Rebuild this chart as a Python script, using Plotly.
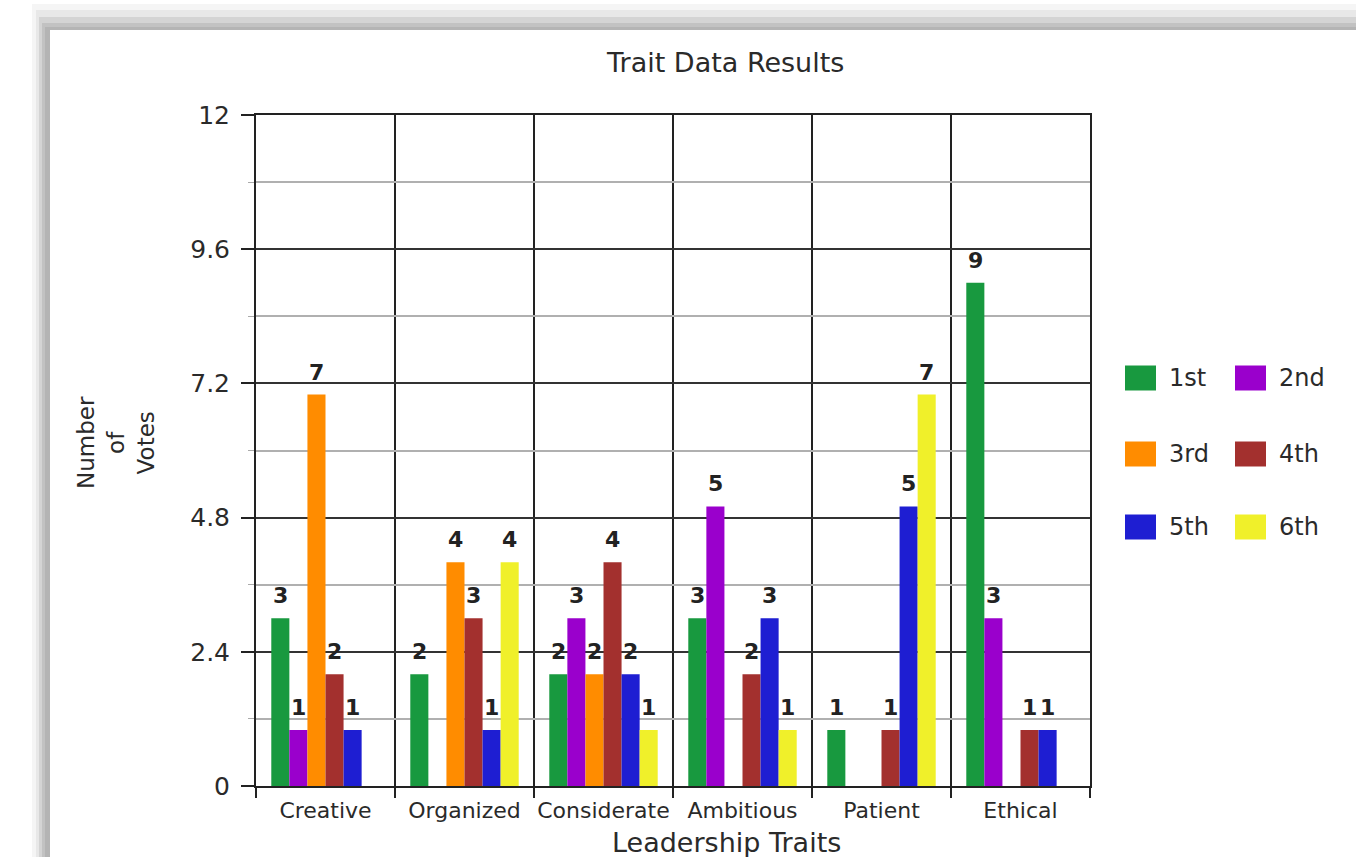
import plotly.graph_objects as go

# ---- data -------------------------------------------------------------
categories = ["Creative", "Organized", "Considerate", "Ambitious", "Patient", "Ethical"]
rank_names = ["1st", "2nd", "3rd", "4th", "5th", "6th"]
rank_colors = ["#18993f", "#9a00cc", "#ff8c00", "#a3302e", "#1e1ed2", "#f0f02a"]

votes_1st = [3, 2, 2, 3, 1, 9]
votes_2nd = [1, 0, 3, 5, 0, 3]
votes_3rd = [7, 4, 2, 0, 0, 0]
votes_4th = [2, 3, 4, 2, 1, 1]
votes_5th = [1, 1, 2, 3, 5, 1]
votes_6th = [0, 4, 1, 1, 7, 0]
series = [votes_1st, votes_2nd, votes_3rd, votes_4th, votes_5th, votes_6th]

y_tick_vals = [0, 2.4, 4.8, 7.2, 9.6, 12]
y_tick_text = ["0", "2.4", "4.8", "7.2", "9.6", "12"]
y_minor_vals = [1.2, 3.6, 6.0, 8.4, 10.8]

# ---- page geometry ----------------------------------------------------
W, H = 1356, 857
ML, MR, MT, MB = 256, 266, 115, 71
PW, PH = W - ML - MR, H - MT - MB
FONT = "DejaVu Sans"
INK = "#222222"
TEXT = "#2a2a2a"
BAR_W = 0.13


def px_x(X):
    return (X - ML) / PW


def px_y(Y):
    return (H - MB - Y) / PH


fig = go.Figure()

for j, (name, color, vals) in enumerate(zip(rank_names, rank_colors, series)):
    fig.add_trace(go.Bar(
        x=list(range(len(categories))),
        y=vals,
        name=name,
        width=BAR_W,
        offset=(j - 3) * BAR_W,
        marker=dict(color=color, line=dict(width=0)),
        showlegend=False,
        hoverinfo="skip",
    ))

annotations = []
# value labels above each non-zero bar
for j, vals in enumerate(series):
    for i, v in enumerate(vals):
        if v == 0:
            continue
        annotations.append(dict(
            x=i + (j - 2.5) * BAR_W, y=v, xref="x", yref="y",
            text=f"<b>{v}</b>", showarrow=False,
            yanchor="bottom", xanchor="center", yshift=8,
            font=dict(family=FONT, size=22, color=INK),
        ))

# titles
annotations.append(dict(
    x=px_x(725), y=px_y(62), xref="paper", yref="paper",
    text="Trait Data Results", showarrow=False,
    xanchor="center", yanchor="middle",
    font=dict(family=FONT, size=27, color=TEXT),
))
annotations.append(dict(
    x=px_x(726), y=px_y(842), xref="paper", yref="paper",
    text="Leadership Traits", showarrow=False,
    xanchor="center", yanchor="middle",
    font=dict(family=FONT, size=27, color=TEXT),
))
annotations.append(dict(
    x=px_x(116), y=px_y(443), xref="paper", yref="paper",
    text="Number<br>of<br>Votes", showarrow=False, textangle=-90,
    xanchor="center", yanchor="middle", align="center",
    font=dict(family=FONT, size=23, color=TEXT),
))

shapes = []
# shadowed frame around the chart panel
frame = [
    (32, 4, "#f5f5f5"),
    (36, 10, "#e8e8e8"),
    (39, 17, "#d4d4d4"),
    (42, 23, "#c2c2c2"),
    (45, 27, "#b4b4b4"),
    (50, 30, "#ffffff"),
]
for x0, y0, col in frame:
    shapes.append(dict(
        type="rect", xref="paper", yref="paper",
        x0=px_x(x0), x1=px_x(W + 40), y0=px_y(y0), y1=px_y(H + 40),
        fillcolor=col, line=dict(width=0), layer="below",
    ))

# two-column legend
sw_left = [1125, 1235]
row_mid = [378, 454, 527]
for k, (name, color) in enumerate(zip(rank_names, rank_colors)):
    col, row = k % 2, k // 2
    x0 = sw_left[col]
    ym = row_mid[row]
    shapes.append(dict(
        type="rect", xref="paper", yref="paper",
        x0=px_x(x0), x1=px_x(x0 + 31), y0=px_y(ym - 12.5), y1=px_y(ym + 12.5),
        fillcolor=color, line=dict(width=0),
    ))
    annotations.append(dict(
        x=px_x(x0 + 42), y=px_y(ym), xref="paper", yref="paper",
        text=name, showarrow=False, xanchor="left", yanchor="middle",
        font=dict(family=FONT, size=24, color=TEXT),
    ))

fig.update_layout(
    width=W, height=H,
    margin=dict(l=ML, r=MR, t=MT, b=MB, pad=0),
    paper_bgcolor="white", plot_bgcolor="white",
    barmode="overlay",
    showlegend=False,
    font=dict(family=FONT, color=TEXT),
    xaxis=dict(
        range=[-0.5, len(categories) - 0.5],
        tickmode="array",
        tickvals=list(range(len(categories))),
        ticktext=categories,
        ticks="",
        showgrid=False,
        zeroline=False,
        showline=True, linecolor=INK, linewidth=2, mirror=True,
        tickfont=dict(family=FONT, size=22, color=TEXT),
        ticklabelstandoff=4,
        minor=dict(
            tickvals=[k - 0.5 for k in range(len(categories) + 1)],
            ticks="outside", ticklen=10, tickwidth=2, tickcolor=INK,
            showgrid=True, gridcolor=INK, gridwidth=2,
        ),
    ),
    yaxis=dict(
        range=[0, 12],
        tickmode="array",
        tickvals=y_tick_vals,
        ticktext=y_tick_text,
        ticks="outside", ticklen=13, tickwidth=2, tickcolor=INK,
        showgrid=True, gridcolor="#333333", gridwidth=2,
        zeroline=False,
        showline=True, linecolor=INK, linewidth=2, mirror=True,
        tickfont=dict(family=FONT, size=25, color=TEXT),
        ticklabelstandoff=6,
        minor=dict(
            tickvals=y_minor_vals,
            ticks="outside", ticklen=6, tickwidth=1, tickcolor="#aaaaaa",
            showgrid=True, gridcolor="#b0b0b0", gridwidth=1.5,
        ),
    ),
    annotations=annotations,
    shapes=shapes,
)

fig.write_html("out.html")
